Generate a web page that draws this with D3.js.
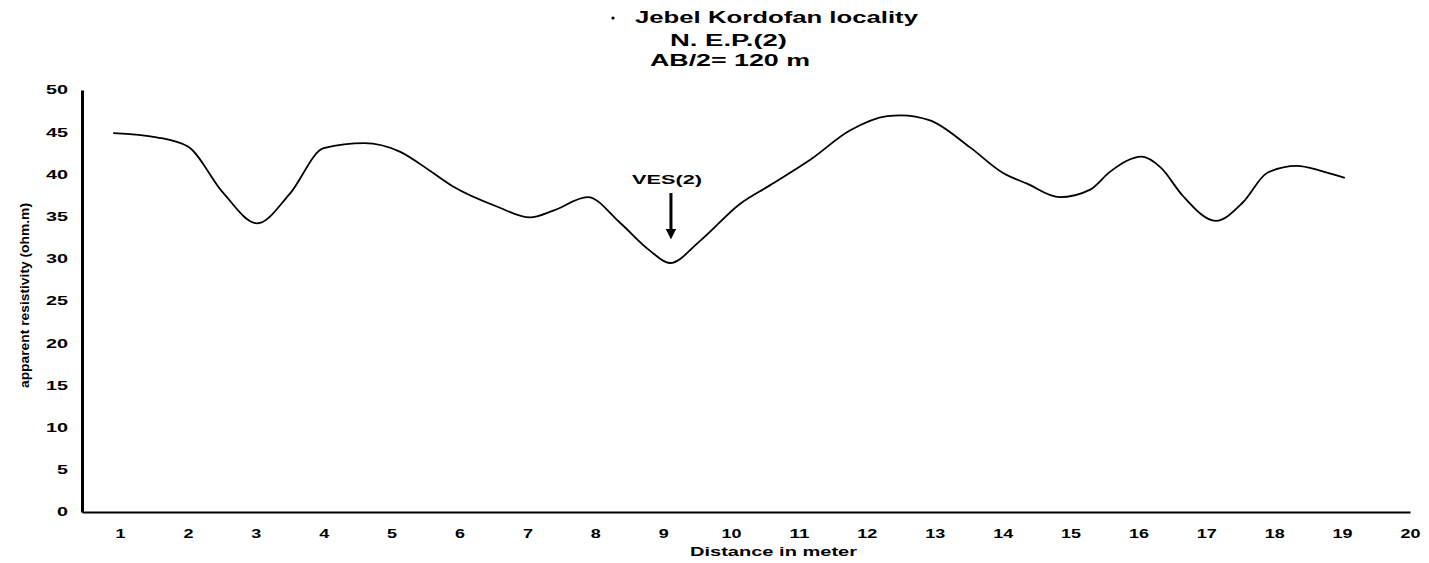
<!DOCTYPE html>
<html>
<head>
<meta charset="utf-8">
<script src="https://cdn.jsdelivr.net/npm/d3@7"></script>
<style>
  body { margin: 0; background: #fff; }
  text { font-family: "Liberation Sans", Arial, sans-serif; font-weight: bold; fill: #000; }
</style>
</head>
<body>
<svg id="chart" width="1429" height="563"></svg>
<script>
// profile stations (distance) and apparent resistivity
var distance = [0.9, 1.54, 2.0, 2.52, 3.02, 3.5, 4.0, 4.6, 5.12, 5.57, 5.9, 6.55, 7.04, 7.38, 7.89,
  8.36, 8.8, 9.1, 9.54, 10.13, 10.57, 11.16, 11.75, 12.3, 12.5, 12.93, 13.52, 14.0, 14.36, 14.84,
  15.29, 15.58, 16.05, 16.33, 16.65, 17.14, 17.54, 17.9, 18.33, 18.7, 19.04];
var resistivity = [44.9, 44.4, 43.3, 37.8, 34.2, 37.7, 43.1, 43.7, 42.7, 40.4, 38.6, 36.2, 34.9, 35.7, 37.3,
  34.3, 31.0, 29.5, 32.1, 36.5, 38.7, 41.7, 45.2, 46.9, 47.0, 46.4, 43.2, 40.2, 38.9, 37.3,
  38.2, 40.3, 42.1, 40.8, 37.5, 34.5, 36.7, 40.2, 41.0, 40.4, 39.6];

var xTicks = d3.range(1, 21);
var yTicks = d3.range(0, 51, 5);
var titleLines = ["Jebel Kordofan locality", "N. E.P.(2)", "AB/2= 120 m"];
var vesLabel = "VES(2)";
var vesAt = { x: 9.1, y: 29.5 };

var svg = d3.select("#chart");

var x = d3.scaleLinear().domain([0.44, 20]).range([82, 1410]);
var y = d3.scaleLinear().domain([0, 50]).range([512, 90]);

// title block (the scanned lettering is wide, so each line is stretched to its width)
var titlePos = [[635, 283, 23], [670, 117, 46], [650, 160, 66]];
svg.selectAll(".title")
  .data(titleLines)
  .enter()
  .append("text")
  .attr("class", "title")
  .attr("x", function(d, i) { return titlePos[i][0]; })
  .attr("y", function(d, i) { return titlePos[i][2]; })
  .attr("textLength", function(d, i) { return titlePos[i][1]; })
  .attr("lengthAdjust", "spacingAndGlyphs")
  .style("font-size", "16px")
  .text(function(d) { return d; });
svg.append("circle").attr("cx", 613).attr("cy", 18).attr("r", 1.6).attr("fill", "#000");

// axes
var xAxis = svg.append("g")
  .attr("transform", "translate(0," + y(0) + ")")
  .call(d3.axisBottom(x).tickValues(xTicks).tickSize(0).tickPadding(17).tickFormat(d3.format("d")));
xAxis.select(".domain").attr("stroke", "#000").attr("stroke-width", 2);
xAxis.selectAll("text")
  .style("font-size", "12px")
  .style("font-family", "Liberation Sans, Arial, sans-serif")
  .attr("textLength", function(d) { return String(d).length * 10; })
  .attr("lengthAdjust", "spacingAndGlyphs");

var yAxis = svg.append("g")
  .attr("transform", "translate(" + x.range()[0] + ",0)")
  .call(d3.axisLeft(y).tickValues(yTicks).tickSize(0).tickPadding(14));
yAxis.select(".domain").attr("stroke", "#000").attr("stroke-width", 3);
yAxis.selectAll("text")
  .style("font-size", "12px")
  .style("font-family", "Liberation Sans, Arial, sans-serif")
  .attr("textLength", function(d) { return String(d).length * 11; })
  .attr("lengthAdjust", "spacingAndGlyphs");

// axis titles
svg.append("text")
  .attr("x", 690)
  .attr("y", 556)
  .attr("textLength", 167)
  .attr("lengthAdjust", "spacingAndGlyphs")
  .style("font-size", "13px")
  .text("Distance in meter");

svg.append("text")
  .attr("transform", "translate(29,388) rotate(-90)")
  .attr("textLength", 185)
  .attr("lengthAdjust", "spacingAndGlyphs")
  .style("font-size", "13px")
  .text("apparent resistivity (ohm.m)");

// resistivity curve
var line = d3.line()
  .x(function(d) { return x(d[0]); })
  .y(function(d) { return y(d[1]); })
  .curve(d3.curveMonotoneX);

svg.append("path")
  .datum(d3.zip(distance, resistivity))
  .attr("d", line)
  .attr("fill", "none")
  .attr("stroke", "#000")
  .attr("stroke-width", 1.8);

// VES marker arrow
svg.append("defs").append("marker")
  .attr("id", "head")
  .attr("viewBox", "0 0 10 10")
  .attr("refX", 2).attr("refY", 5)
  .attr("markerWidth", 3.5).attr("markerHeight", 3.5)
  .attr("orient", "auto")
  .append("path")
  .attr("d", "M0,0 L10,5 L0,10 Z")
  .attr("fill", "#000");

var vx = x(vesAt.x) + 1;
svg.append("line")
  .attr("x1", vx).attr("x2", vx)
  .attr("y1", y(vesAt.y) - 70).attr("y2", y(vesAt.y) - 32)
  .attr("stroke", "#000")
  .attr("stroke-width", 3)
  .attr("marker-end", "url(#head)");

svg.append("text")
  .attr("x", 632)
  .attr("y", 184)
  .attr("textLength", 70)
  .attr("lengthAdjust", "spacingAndGlyphs")
  .style("font-size", "13px")
  .text(vesLabel);
</script>
</body>
</html>
